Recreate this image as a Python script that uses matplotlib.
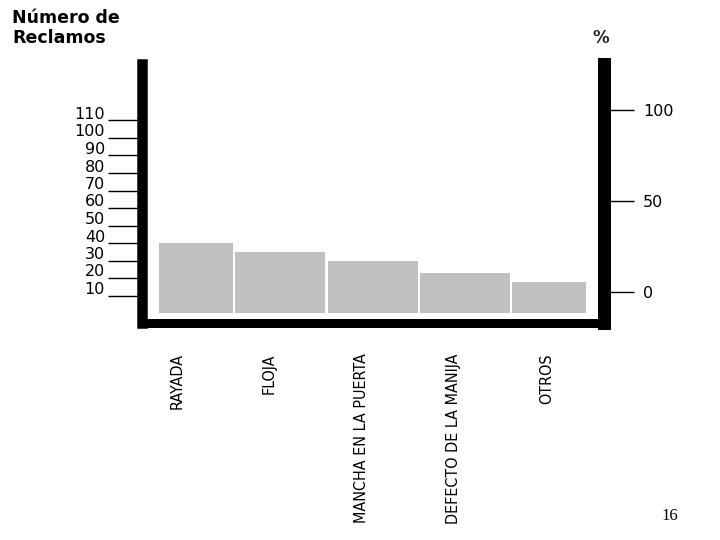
import matplotlib
matplotlib.use("Agg")
import matplotlib.pyplot as plt
import matplotlib.transforms as mtransforms

# ---- data ----
categories = ["RAYADA", "FLOJA", "MANCHA EN LA PUERTA", "DEFECTO DE LA MANIJA", "OTROS"]
reclamos = [40, 35, 29.5, 23, 18]
left_ticks = [10, 20, 30, 40, 50, 60, 70, 80, 90, 100, 110]
right_ticks = [0, 50, 100]

W, H = 720, 540
fig = plt.figure(figsize=(W / 100, H / 100), dpi=100)
fig.patch.set_facecolor("white")

def px(v):
    return v * 0.72  # pixels -> points

ax_l, ax_r, ax_b, ax_t = 142, 603.5, 322.5, 64
ax = fig.add_axes([ax_l / W, 1 - ax_b / H, (ax_r - ax_l) / W, (ax_b - ax_t) / H])
ax2 = ax.twinx()

# left (count) scale: 0 at 313 px, 1.75 px per unit
ax.set_ylim(-(ax_b - 313) / 1.75, (313 - ax_t) / 1.75)
# right (%) scale: 0 at 292 px, 1.82 px per unit
ax2.set_ylim(-(ax_b - 292) / 1.82, (292 - ax_t) / 1.82)
ax.set_xlim(-0.5, len(categories) - 0.5)

# bars
n = len(categories)
half = 0.4875
trim = 0.175
for i, v in enumerate(reclamos):
    lo = i - half + (trim if i == 0 else 0)
    hi = i + half - (trim if i == n - 1 else 0)
    ax.bar(lo, v, width=hi - lo, align="edge", color="#c0c0c0", edgecolor="none", zorder=2)

# spines
for s in ["top", "right"]:
    ax.spines[s].set_visible(False)
ax.spines["left"].set_linewidth(px(10.5))
ax.spines["bottom"].set_linewidth(px(9))
for s in ["top", "left", "bottom"]:
    ax2.spines[s].set_visible(False)
ax2.spines["right"].set_linewidth(px(13))
for sp in list(ax.spines.values()) + list(ax2.spines.values()):
    sp.set_color("black")

ax.set_xticks([])
ax.set_yticks(left_ticks)
ax.tick_params(axis="y", direction="out", length=px(34), width=1.0, color="black",
               labelleft=False)
tick_font = dict(family="DejaVu Sans", size=11.5, color="black")
for v in left_ticks:
    ax.annotate(str(v), xy=(0, v), xycoords=("axes fraction", "data"),
                xytext=(px(-37), px(1.5)), textcoords="offset points",
                ha="right", va="baseline", **tick_font)

ax2.set_yticks(right_ticks)
ax2.set_yticklabels([str(t) for t in right_ticks], **tick_font)
ax2.tick_params(axis="y", direction="out", length=px(29.5), width=1.0, color="black",
                pad=px(10))

# category labels (rotated)
trans = mtransforms.blended_transform_factory(ax.transData, fig.transFigure)
for i, c in enumerate(categories):
    ax.text(i - 0.12, 1 - 353 / H, c, rotation=90, ha="center", va="top",
            transform=trans, fontsize=11.5,
            family=["Liberation Sans Narrow", "DejaVu Sans"], fontstretch="condensed",
            color="black")

# titles / annotations
fig.text(12 / W, 1 - 9 / H, "Número de\nReclamos", ha="left", va="top",
         fontsize=12.5, fontweight="bold", family="DejaVu Sans", linespacing=1.15)
fig.text(601 / W, 1 - 38 / H, "%", ha="center", va="center", fontsize=12,
         fontweight="bold", family="DejaVu Sans", color="#222222")
fig.text(670 / W, 1 - 516 / H, "16", ha="center", va="center", fontsize=12,
         family="Liberation Serif")

fig.savefig("out.png", dpi=100, facecolor="white")
